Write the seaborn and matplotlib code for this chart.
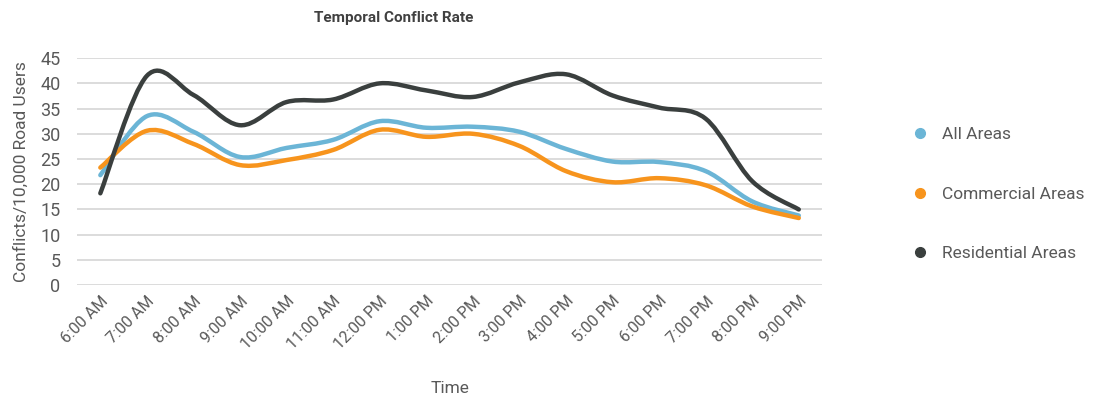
import numpy as np
import matplotlib
matplotlib.use("Agg")
import matplotlib.pyplot as plt
import seaborn as sns
from matplotlib.path import Path
from matplotlib.patches import PathPatch
from matplotlib.lines import Line2D

# ── DATA ──────────────────────────────────────────────────────────────────────
times = ["6:00 AM", "7:00 AM", "8:00 AM", "9:00 AM", "10:00 AM", "11:00 AM",
         "12:00 PM", "1:00 PM", "2:00 PM", "3:00 PM", "4:00 PM", "5:00 PM",
         "6:00 PM", "7:00 PM", "8:00 PM", "9:00 PM"]
all_areas = [21.8, 33.5, 30.4, 25.4, 27.2, 28.8, 32.5, 31.2, 31.4, 30.4,
             27.0, 24.5, 24.4, 22.6, 16.6, 13.8]
commercial = [23.3, 30.6, 28.0, 23.8, 24.8, 26.8, 30.8, 29.4, 30.0, 27.6,
              22.6, 20.4, 21.2, 19.8, 15.6, 13.3]
residential = [18.2, 41.5, 37.7, 31.7, 36.3, 36.8, 40.0, 38.6, 37.3, 40.2,
               41.8, 37.6, 35.2, 33.0, 20.6, 15.0]

SERIES = [("All Areas", all_areas, "#6BB5D6"),
          ("Commercial Areas", commercial, "#F7941D"),
          ("Residential Areas", residential, "#3A3F3E")]

TEXT = "#595959"

# ── STYLE ─────────────────────────────────────────────────────────────────────
sns.set_theme(style="white")
plt.rcParams["font.family"] = ["Roboto", "DejaVu Sans"]


def smooth_path(xs, ys):
    """Bezier path through the points (Excel-style smoothed line)."""
    pts = np.column_stack([xs, ys]).astype(float)
    n = len(pts)
    verts = [pts[0]]
    codes = [Path.MOVETO]
    for i in range(n - 1):
        p0 = pts[max(i - 1, 0)]
        p1 = pts[i]
        p2 = pts[i + 1]
        p3 = pts[min(i + 2, n - 1)]
        c1 = p1 + (p2 - p0) / 6.0
        c2 = p2 - (p3 - p1) / 6.0
        verts += [c1, c2, p2]
        codes += [Path.CURVE4] * 3
    return Path(verts, codes)


fig = plt.figure(figsize=(11.07, 4.01), dpi=100)
ax = fig.add_axes([0.0696, 0.289, 0.6730, 0.566])

x = np.arange(len(times))
for name, vals, color in SERIES:
    ax.add_patch(PathPatch(smooth_path(x, vals), facecolor="none",
                           edgecolor=color, lw=3.2, capstyle="round",
                           joinstyle="round", zorder=3))

ax.set_xlim(-0.5, len(times) - 0.5)
ax.set_ylim(0, 45)
ax.set_yticks(range(0, 50, 5))
ax.yaxis.grid(True, color="#D9D9D9", lw=1.3)
ax.set_axisbelow(True)
for s in ax.spines.values():
    s.set_visible(False)

ax.set_xticks(x)
ax.set_xticklabels(times, rotation=45, ha="right", rotation_mode="anchor",
                   fontsize=11.5, color=TEXT)
ax.tick_params(axis="x", length=0, pad=6)
ax.tick_params(axis="y", length=0, pad=12, labelsize=13, labelcolor=TEXT)

ax.set_xlabel("Time", fontsize=12.5, color=TEXT, labelpad=21)
ax.set_ylabel("Conflicts/10,000 Road Users", fontsize=12.5, color=TEXT,
              labelpad=8)

fig.text(0.356, 0.955, "Temporal Conflict Rate", ha="center", va="center",
         fontsize=11, fontweight="bold", color="#404040")

handles = [Line2D([], [], ls="none", marker="o", ms=7, color=c)
           for _, _, c in SERIES]
fig.legend(handles, [n for n, _, _ in SERIES], loc="center left",
           bbox_to_anchor=(0.81, 0.516), frameon=False, fontsize=12.5,
           labelcolor=TEXT, labelspacing=2.55, handletextpad=0.8,
           handlelength=0.9)

fig.savefig("out.png", dpi=100)
